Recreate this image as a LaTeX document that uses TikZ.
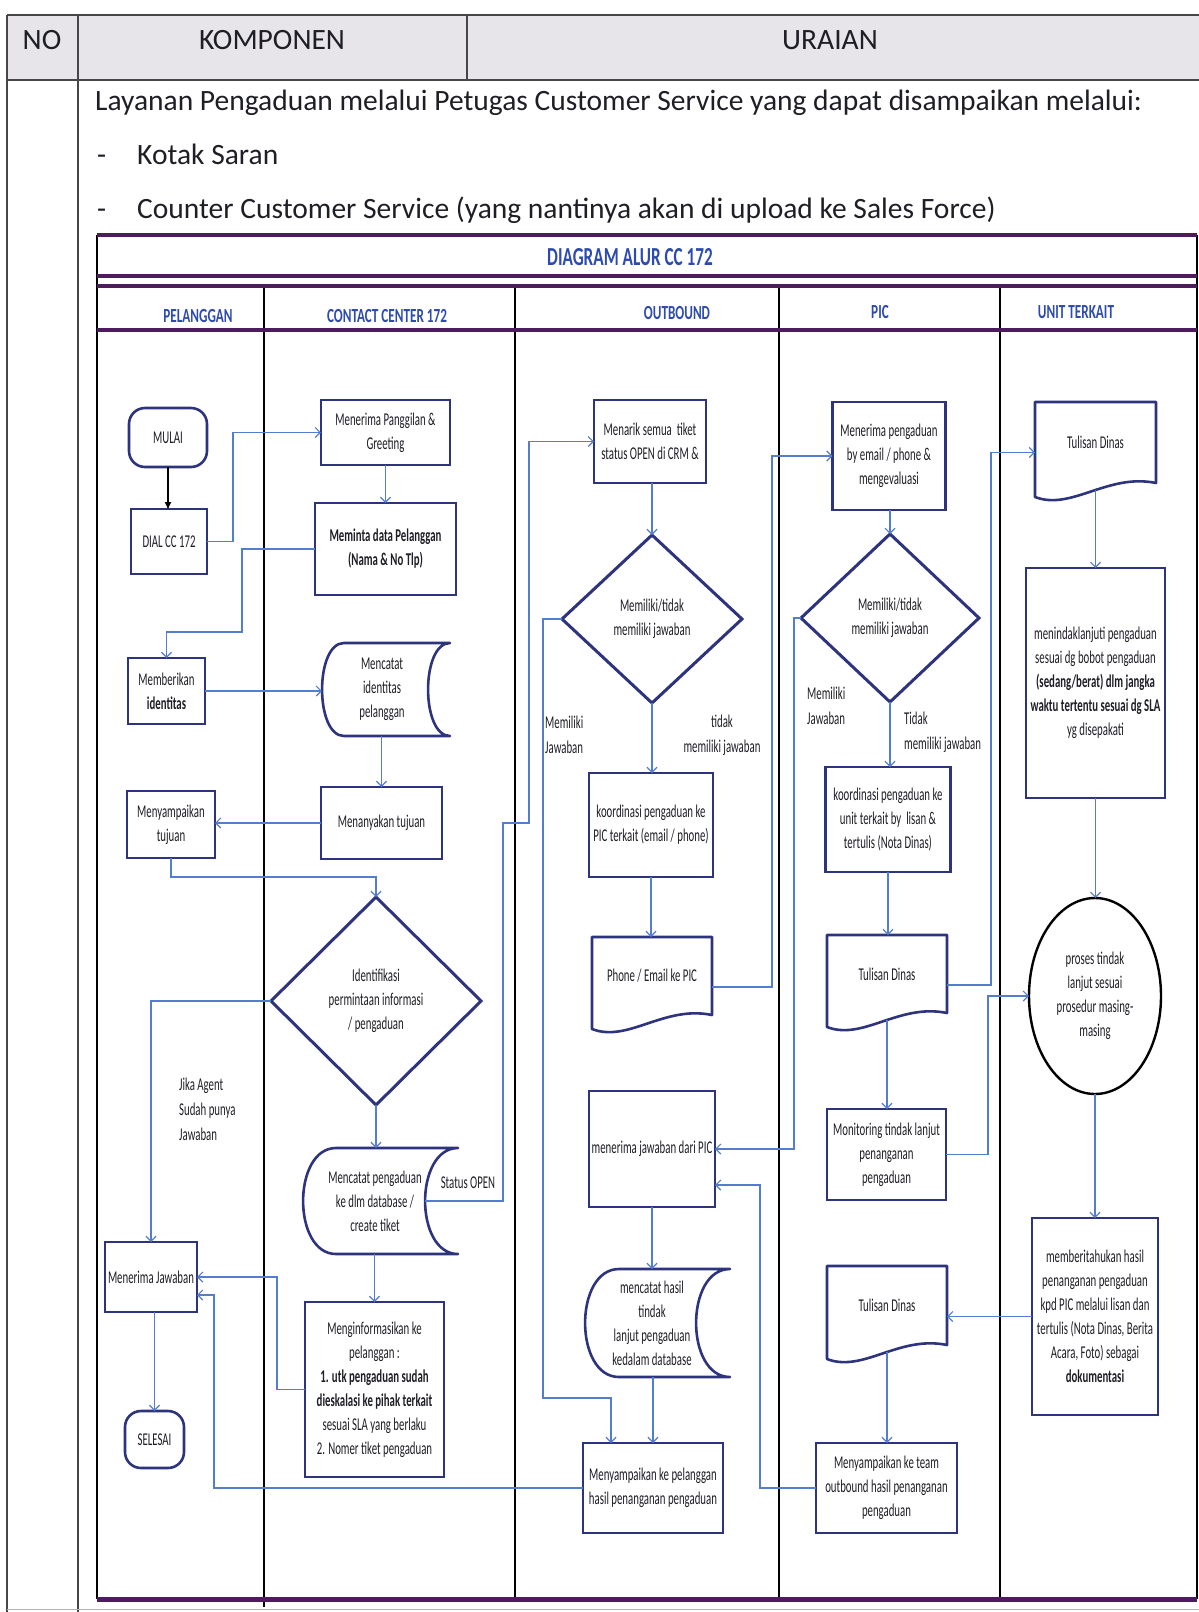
\documentclass[tikz,border=0pt]{standalone}
\usepackage{fontspec}
\setmainfont{Carlito}
\newfontfamily\cond{Carlito}[FakeStretch=0.6]
\newfontfamily\condh{Carlito}[FakeStretch=0.66]
\usetikzlibrary{arrows.meta,shapes.geometric,calc}
\definecolor{purp}{RGB}{78,28,92}
\definecolor{boxc}{RGB}{45,52,125}
\definecolor{headc}{RGB}{45,75,175}
\definecolor{connc}{RGB}{85,125,205}
\definecolor{txt}{RGB}{30,30,38}
\definecolor{hdrfill}{RGB}{231,229,234}
\definecolor{tline}{RGB}{70,70,70}
% #1 node, #2 arc depth, #3 extra width on the right
\newcommand\storedshape[3]{\draw[shapeline] ([xshift=#2pt]#1.north west) -- ([xshift=#3pt]#1.north east) .. controls ([xshift=#3pt-1.33*#2pt]#1.north east) and ([xshift=#3pt-1.33*#2pt]#1.south east) .. ([xshift=#3pt]#1.south east) -- ([xshift=#2pt]#1.south west) .. controls ([xshift=-0.33*#2pt]#1.south west) and ([xshift=-0.33*#2pt]#1.north west) .. ([xshift=#2pt]#1.north west) -- cycle;}
\newcommand\docshape[1]{\draw[shapeline] ($(#1.south west)+(0,14)$) -- (#1.north west) -- (#1.north east) -- (#1.south east) .. controls ($(#1.south west)!0.6!(#1.south east)+(0,-10)$) and ($(#1.south west)!0.3!(#1.south east)+(0,28)$) .. ($(#1.south west)+(0,14)$) -- cycle;}
\begin{document}
\begin{tikzpicture}[x=1pt,y=-1pt,
  boxfont/.style={font=\cond\fontsize{18}{24}\selectfont},
  box/.style={rectangle, draw=boxc, line width=2.6pt, fill=white, text=txt, boxfont, align=center, inner sep=1pt, outer sep=0pt},
  boldbox/.style={box, font=\cond\bfseries\fontsize{18}{24}\selectfont},
  plain/.style={box, draw=none, fill=none},
  term/.style={box, rounded corners=16pt},
  dia/.style={diamond, draw=boxc, line width=3pt, fill=white, text=txt, boxfont, align=center, inner sep=0pt, outer sep=0pt},
  ell/.style={ellipse, draw=black, line width=2.4pt, fill=white, text=txt, boxfont, align=center, inner sep=0pt, outer sep=0pt},
  shapeline/.style={draw=boxc, line width=2.6pt, line join=round},
  conn/.style={draw=connc, line width=1.2pt, -{Straight Barb[length=5pt,width=10pt]}},
  blkarrow/.style={draw=black, line width=1.5pt, -{Triangle[length=7pt,width=6pt]}},
  lbl/.style={text=txt, font=\cond\fontsize{18}{25}\selectfont, inner sep=0pt},
  lanehead/.style={text=headc, font=\condh\bfseries\fontsize{20}{24}\selectfont, inner sep=0pt},
  bodytxt/.style={text=txt, font=\fontsize{29.5}{34}\selectfont, inner sep=0pt},
  purpline/.style={draw=purp, line width=4pt},
  divider/.style={draw=black, line width=1.8pt},
  tablel/.style={draw=tline, line width=1.4pt}]
\useasboundingbox (0,0) rectangle (1199,1612);
% outer table
\fill[hdrfill] (7,15) rectangle (1199,80);
\draw[tablel] (7,15) -- (1199,15);
\draw[tablel] (7,80) -- (1199,80);
\draw[tablel] (7,15) -- (7,1612);
\draw[tablel] (78,15) -- (78,1612);
\draw[tablel] (467,15) -- (467,80);
\draw[draw=gray!60, line width=1pt] (7,1609) -- (1199,1609);
\node[bodytxt] (hno) at (42,40) {NO};
\node[bodytxt] (hkomp) at (272,40) {KOMPONEN};
\node[bodytxt] (hura) at (830,40) {URAIAN};
\node[bodytxt, anchor=base west] (t1) at (95,110) {Layanan Pengaduan melalui Petugas Customer Service yang dapat disampaikan melalui:};
\node[bodytxt, anchor=base west] (d1) at (97,164) {-};
\node[bodytxt, anchor=base west] (t2) at (137,164) {Kotak Saran};
\node[bodytxt, anchor=base west] (d2) at (97,218) {-};
\node[bodytxt, anchor=base west] (t3) at (137,218) {Counter Customer Service (yang nantinya akan di upload ke Sales Force)};
% diagram frame
\draw[divider] (97,235) -- (97,1599);
\draw[divider] (1197,235) -- (1197,1599);
\draw[divider] (264,286) -- (264,1607);
\draw[divider] (515,286) -- (515,1599);
\draw[divider] (779,286) -- (779,1599);
\draw[divider] (1000,286) -- (1000,1599);
\draw[purpline] (97,235) -- (1197,235);
\draw[purpline] (97,276) -- (1197,276);
\draw[purpline] (97,286) -- (1197,286);
\draw[purpline] (97,330) -- (1197,330);
\draw[purpline, line width=5pt] (97,1599) -- (1197,1599);
\node[lanehead, font=\condh\bfseries\fontsize{26}{30}\selectfont] (title) at (630,257) {DIAGRAM ALUR CC 172};
\node[lanehead] (h1) at (198,316) {PELANGGAN};
\node[lanehead] (h2) at (387,316) {CONTACT CENTER 172};
\node[lanehead] (h3) at (677,313) {OUTBOUND};
\node[lanehead] (h4) at (880,312) {PIC};
\node[lanehead] (h5) at (1076,312) {UNIT TERKAIT};
% PELANGGAN and CONTACT CENTER
\node[term, minimum width=78pt, minimum height=59pt] (mulai) at (168,437.5) {MULAI};
\node[box, minimum width=76pt, minimum height=65pt] (dial) at (169,541.5) {DIAL CC 172};
\node[box, minimum width=129pt, minimum height=65pt] (mpg) at (385.5,432.5) {Menerima Panggilan \&\\Greeting};
\node[boldbox, minimum width=141pt, minimum height=92pt] (mdp) at (385.5,549) {Meminta data Pelanggan\\(Nama \& No Tlp)};
\node[box, minimum width=77pt, minimum height=66pt] (mbi) at (166.5,691) {Memberikan\\\textbf{identitas}};
\node[plain, minimum width=120pt, minimum height=93pt] (mip) at (382,689.5) {Mencatat\\identitas\\pelanggan};
\storedshape{mip}{22}{8}
\node[box, minimum width=121pt, minimum height=72pt] (mnt) at (381.5,823) {Menanyakan tujuan};
\node[box, minimum width=88pt, minimum height=67pt] (myt) at (171,824.5) {Menyampaikan\\tujuan};
\node[dia, minimum width=210pt, minimum height=208pt] (idf) at (376,1001) {Identifikasi\\permintaan informasi\\/ pengaduan};
\node[plain, minimum width=144pt, minimum height=106pt] (mpd) at (375,1201) {Mencatat pengaduan\\ke dlm database /\\create tiket};
\storedshape{mpd}{33}{11}
\node[box, minimum width=139pt, minimum height=175pt] (mik) at (374.5,1389.5) {Menginformasikan ke\\pelanggan :\\\textbf{1. utk pengaduan sudah}\\\textbf{dieskalasi ke pihak terkait}\\sesuai SLA yang berlaku\\2. Nomer tiket pengaduan};
\node[box, minimum width=92pt, minimum height=70pt] (mjw) at (151,1277) {Menerima Jawaban};
\node[term, minimum width=59pt, minimum height=57pt] (sls) at (154.5,1439.5) {SELESAI};
\node[lbl, align=left, anchor=west] (ljika) at (179,1109) {Jika Agent\\Sudah punya\\Jawaban};
\node[lbl] (lstat) at (468,1183) {Status OPEN};
% OUTBOUND
\node[box, minimum width=112pt, minimum height=83pt] (mst) at (650,441.5) {Menarik semua~ tiket\\status OPEN di CRM \&};
\node[dia, minimum width=180pt, minimum height=168pt] (odm) at (652,619) {Memiliki/tidak\\memiliki jawaban};
\node[box, minimum width=124pt, minimum height=104pt] (kpc) at (651,825) {koordinasi pengaduan ke\\PIC terkait (email / phone)};
\node[plain, minimum width=120pt, minimum height=78pt] (pek) at (652,976) {Phone / Email ke PIC};
\docshape{pek}
\node[box, minimum width=126pt, minimum height=116pt] (mjp) at (652,1149) {menerima jawaban dari PIC};
\node[plain, minimum width=134pt, minimum height=108pt] (mhs) at (652,1323) {mencatat hasil\\tindak\\lanjut pengaduan\\kedalam database};
\storedshape{mhs}{34}{11}
\node[box, minimum width=140pt, minimum height=90pt] (mkp) at (653,1488) {Menyampaikan ke pelanggan\\hasil penanganan pengaduan};
\node[lbl, align=left, anchor=west] (lom) at (545,735) {Memiliki\\Jawaban};
\node[lbl, align=center] (lot) at (722,735) {tidak\\memiliki jawaban};
% PIC
\node[box, minimum width=113pt, minimum height=108pt] (mpe) at (889,456) {Menerima pengaduan\\by email / phone \&\\mengevaluasi};
\node[dia, minimum width=178pt, minimum height=168pt] (pdm) at (890,618) {Memiliki/tidak\\memiliki jawaban};
\node[box, minimum width=125pt, minimum height=105pt] (kut) at (888,819.5) {koordinasi pengaduan ke\\unit terkait by~ lisan \&\\tertulis (Nota Dinas)};
\node[plain, minimum width=120pt, minimum height=78pt] (td1) at (887,974) {Tulisan Dinas};
\docshape{td1}
\node[box, minimum width=119pt, minimum height=91pt] (mon) at (886.5,1154.5) {Monitoring tindak lanjut\\penanganan\\pengaduan};
\node[plain, minimum width=120pt, minimum height=79pt] (td2) at (887,1305.5) {Tulisan Dinas};
\docshape{td2}
\node[box, minimum width=141pt, minimum height=90pt] (mkt) at (886.5,1488) {Menyampaikan ke team\\outbound hasil penanganan\\pengaduan};
\node[lbl, align=left, anchor=west] (lpm) at (807,706) {Memiliki\\Jawaban};
\node[lbl, align=left, anchor=west] (lpt) at (904,732) {Tidak\\memiliki jawaban};
% UNIT TERKAIT
\node[plain, minimum width=121pt, minimum height=81pt] (td0) at (1095.5,442.5) {Tulisan Dinas};
\docshape{td0}
\node[box, minimum width=139pt, minimum height=230pt] (mdl) at (1095.5,683) {menindaklanjuti pengaduan\\sesuai dg bobot pengaduan\\\textbf{(sedang/berat) dlm jangka}\\\textbf{waktu tertentu sesuai dg SLA}\\yg disepakati};
\node[ell, minimum width=132pt, minimum height=196pt] (prs) at (1095,996) {proses tindak\\lanjut sesuai\\prosedur masing-\\masing};
\node[box, minimum width=126pt, minimum height=197pt] (mbh) at (1095,1316.5) {memberitahukan hasil\\penanganan pengaduan\\kpd PIC melalui lisan dan\\tertulis (Nota Dinas, Berita\\Acara, Foto) sebagai\\\textbf{dokumentasi}};
% connectors
\draw[blkarrow] (mulai.south) -- (mulai.south |- dial.north);
\draw[conn] (dial.east) -- ++(26,0) |- (mpg.west);
\draw[conn] (mpg.south) -- (mdp.north);
\draw[conn] (mdp.west) -- ++(-73,0) |- ([yshift=26pt]mbi.north) -- (mbi.north);
\draw[conn] (mbi.east) -- (mbi.east -| mip.west);
\draw[conn] (mnt.north |- mip.south) -- (mnt.north);
\draw[conn] (mnt.west) -- (mnt.west -| myt.east);
\draw[conn] (myt.south) -- ++(0,19) -| (idf.north);
\draw[conn] (idf.west) -| (mjw.north);
\draw[conn] (idf.south) -- (idf.south |- mpd.north);
\draw[conn] ([xshift=-22pt]mpd.east) -| (503,823) -| (529,441.5) -- (mst.west);
\draw[conn] (mik.north |- mpd.south) -- (mik.north);
\draw[conn] (mik.west) -- ++(-28,0) |- (mjw.east);
\draw[conn] (sls.north |- mjw.south) -- (sls.north);
\draw[conn] (mkp.west) -| (214,1295) -- ([yshift=-18pt]mjw.east);
\draw[conn] (odm.north |- mst.south) -- (odm.north);
\draw[conn] (odm.south) -- (odm.south |- kpc.north);
\draw[conn] (odm.west) -- ++(-19,0) |- ([xshift=-42pt,yshift=45pt]mkp.north) -- ([xshift=-42pt]mkp.north);
\draw[conn] (kpc.south) -- (kpc.south |- pek.north);
\draw[conn] ([yshift=-11pt]pek.east) -| (772,456) -- (mpe.west);
\draw[conn] (mjp.south) -- (mjp.south |- mhs.north);
\draw[conn] (mkp.north |- mhs.south) -- (mkp.north);
\draw[conn] (pdm.north |- mpe.south) -- (pdm.north);
\draw[conn] (pdm.south) -- (pdm.south |- kut.north);
\draw[conn] (pdm.west) -- ++(-7,0) |- (mjp.east);
\draw[conn] (kut.south) -- (kut.south |- td1.north);
\draw[conn] ([yshift=-11pt]td1.east) -| ([xshift=-44pt,yshift=-10pt]td0.west) -- ([yshift=-10pt]td0.west);
\draw[conn] ([yshift=-7pt]td1.south) -- (td1.south |- mon.north);
\draw[conn] (mon.east) -- ++(42,0) |- (prs.west);
\draw[conn] ([yshift=-7pt]td0.south) -- (td0.south |- mdl.north);
\draw[conn] (mdl.south) -- (mdl.south |- prs.north);
\draw[conn] (prs.south) -- (prs.south |- mbh.north);
\draw[conn] (mbh.west) -- (mbh.west -| td2.east);
\draw[conn] ([yshift=-7pt]td2.south) -- (td2.south |- mkt.north);
\draw[conn] (mkt.west) -| (760,1185) -- ([yshift=-36pt]mjp.east);
\end{tikzpicture}
\end{document}
